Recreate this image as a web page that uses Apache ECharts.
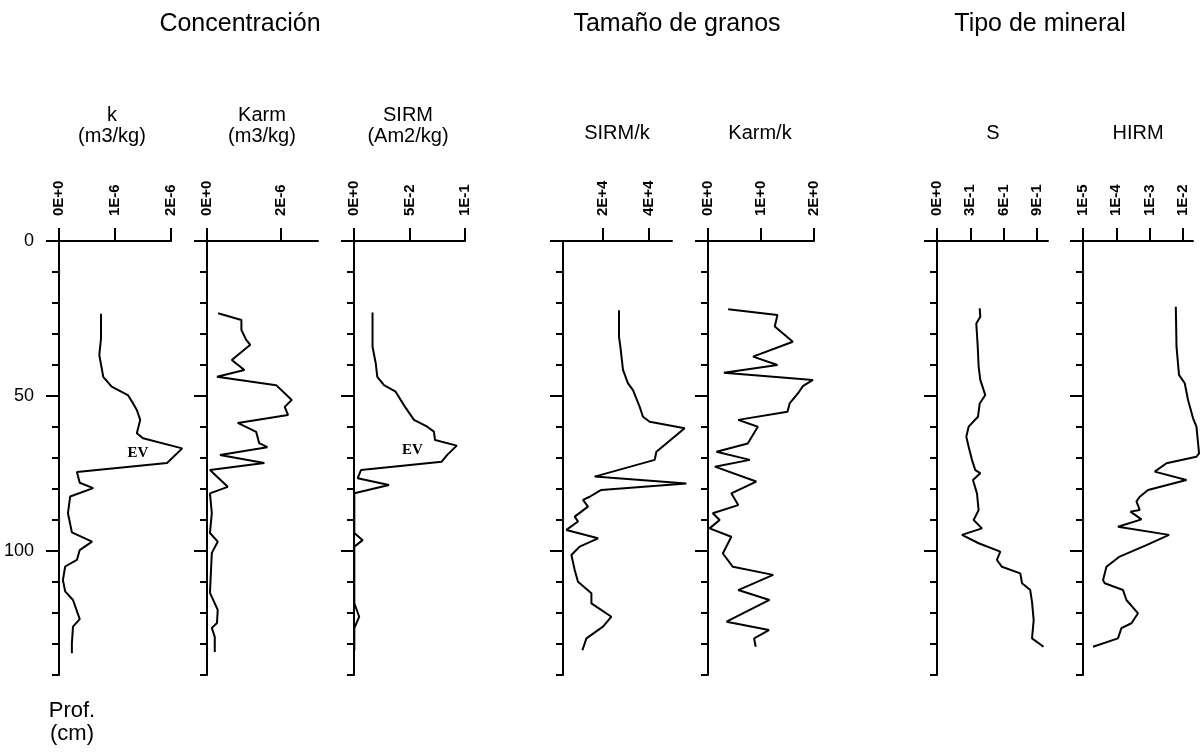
<!DOCTYPE html>
<html><head><meta charset="utf-8">
<script src="https://cdn.jsdelivr.net/npm/echarts@6/dist/echarts.min.js"></script>
<style>html,body{margin:0;padding:0;background:#fff}#c{width:1202px;height:756px}</style>
</head><body><div id="c"></div>
<script>
// ---------- data (depth in cm, values in axis units) ----------
const kDepth = [23.5,31.4,36.8,43.8,47,49.7,52.3,54.5,57.7,62,63.6,66.9,71.6,74.5,78,79.7,82.4,87.8,94,97,99.7,102.9,105,109.4,113,115.8,122,124.4,129.8,133];
const kVal = [0.75e-6,0.75e-6,0.72e-6,0.79e-6,0.94e-6,1.23e-6,1.32e-6,1.39e-6,1.45e-6,1.39e-6,1.5e-6,2.2e-6,1.93e-6,0.32e-6,0.37e-6,0.61e-6,0.2e-6,0.16e-6,0.23e-6,0.59e-6,0.37e-6,0.32e-6,0.11e-6,0.07e-6,0.11e-6,0.25e-6,0.37e-6,0.25e-6,0.23e-6,0.23e-6];

const karmDepth = [23.3,25.5,28.7,31.9,33.5,38.4,41.6,43.8,46.5,51.3,53.5,56.1,58.7,61.6,65.2,66.5,69,71.6,73.9,79.3,81.4,87.8,94.2,97,100.6,113.5,119,123.2,124.8,127.7,132.6];
const karmVal = [0.3e-6,0.93e-6,0.93e-6,1.06e-6,1.17e-6,0.67e-6,1.01e-6,0.27e-6,1.87e-6,2.29e-6,2.1e-6,2.19e-6,0.83e-6,1.33e-6,1.41e-6,1.63e-6,0.35e-6,1.55e-6,0.08e-6,0.56e-6,0.08e-6,0.13e-6,0.08e-6,0.29e-6,0.13e-6,0.08e-6,0.29e-6,0.27e-6,0.13e-6,0.21e-6,0.21e-6];

const sirmDepth = [23.1,34.1,39.5,43.8,46.5,48.6,53.5,57.7,59.9,61.5,64.2,66,69,71.2,73.9,76.5,78.7,81.4,94.2,96.5,98.6,116.9,121.2,124.9,132];
const sirmVal = [0.0167,0.0167,0.0196,0.021,0.027,0.0375,0.046,0.054,0.066,0.072,0.073,0.0926,0.084,0.079,0.0063,0.0033,0.0315,0.0003,0.0003,0.0078,0.0003,0.0003,0.0047,0.0003,0.0003];

const sirmkDepth = [22.3,30.9,34.1,41.6,45.9,48.1,53.5,56.7,58.3,60.4,68,70.6,76,78.2,80.3,82.5,83.5,85.7,88.9,90.5,93.2,95.9,98.6,101.3,106.1,109.9,113.6,116.9,121.2,124.4,128.2,132];
const sirmkVal = [26950,26950,27550,28690,30860,33040,35950,37380,40300,55500,43210,42470,16380,56250,19240,14200,11300,13470,7690,9120,4080,17820,9860,6250,7690,9120,14950,14950,23640,20000,12780,11030];

const karmkDepth = [22,23.9,27.6,32.5,37.3,40,42.5,44.8,46.8,49.1,52.4,55.1,57.7,59.9,65.3,68,70.6,72.8,77.6,81.4,85.2,87.8,90,92.7,95.4,100.8,105.1,107.7,112.6,115.8,122.8,125.5,128.2,130.9];
const karmkVal = [0.38,1.31,1.26,1.6,0.85,1.31,0.3,1.98,1.79,1.7,1.54,1.5,0.57,0.94,0.75,0.16,0.79,0.13,0.91,0.44,0.57,0.09,0.22,0.03,0.44,0.28,0.47,1.23,0.57,1.16,0.35,1.15,0.87,0.9];

const sDepth = [21.7,24.4,26.6,34.1,40.5,44.8,49.7,52.4,56.7,59.9,63.1,66.4,70.6,73.9,74.9,77.1,81.4,86.8,90,92.7,94.8,97.5,100.2,102.9,105.1,107.2,110.4,112.6,116.4,122.3,128.2,130.9];
const sVal = [0.385,0.39,0.354,0.367,0.375,0.39,0.435,0.385,0.369,0.285,0.264,0.285,0.315,0.345,0.39,0.324,0.36,0.375,0.33,0.405,0.225,0.375,0.57,0.54,0.585,0.75,0.766,0.84,0.856,0.871,0.856,0.96];

const hirmDepth = [21.2,34.1,43.2,45.9,51.3,57.2,59.9,68.5,69.6,71.7,74.4,77.1,80.3,82.5,84,86.8,87.3,89.8,92.2,94.8,98.1,101.8,105.1,109.4,110.4,112.6,115.8,120.1,123.3,124.9,128.2,130.9];
const hirmVal = [6.1e-3,6.4e-3,7.6e-3,1.13e-2,1.42e-2,2.01e-2,2.54e-2,3.04e-2,2.54e-2,3.2e-3,1.42e-3,1.27e-2,8.95e-4,5.05e-4,4.02e-4,5.05e-4,2.65e-4,5.68e-4,1.12e-4,3.82e-3,8.0e-4,1.26e-4,5.05e-5,3.99e-5,4.49e-5,1.59e-4,2.01e-4,4.49e-4,2.84e-4,1.42e-4,1.12e-4,2.0e-5];

// tick values and labels
const kTicks = [0,1e-6,2e-6];           const kLabels = ['0E+0','1E-6','2E-6'];
const karmTicks = [0,2e-6];             const karmLabels = ['0E+0','2E-6'];
const sirmTicks = [0,0.05,0.1];         const sirmLabels = ['0E+0','5E-2','1E-1'];
const sirmkTicks = [20000,40000];       const sirmkLabels = ['2E+4','4E+4'];
const karmkTicks = [0,1,2];             const karmkLabels = ['0E+0','1E+0','2E+0'];
const sTicks = [0,0.3,0.6,0.9];         const sLabels = ['0E+0','3E-1','6E-1','9E-1'];
const hirmTicks = [1e-5,1e-4,1e-3,1e-2]; const hirmLabels = ['1E-5','1E-4','1E-3','1E-2'];
const depthLabelValues = [0,50,100];

const groupTitles = ['Concentración','Tamaño de granos','Tipo de mineral'];
const depthTitle = ['Prof.','(cm)'];

// ---------- layout ----------
const panels = [
  {d:kDepth, v:kVal, ticks:kTicks, labels:kLabels, min:0, max:2e-6, left:59, width:112, t1:'k', t2:'(m3/kg)', tx:112, ev:[1.41e-6,68.4]},
  {d:karmDepth, v:karmVal, ticks:karmTicks, labels:karmLabels, min:0, max:3e-6, left:207, width:111, t1:'Karm', t2:'(m3/kg)', tx:262},
  {d:sirmDepth, v:sirmVal, ticks:sirmTicks, labels:sirmLabels, min:0, max:0.1, left:354, width:111, t1:'SIRM', t2:'(Am2/kg)', tx:408, ev:[0.0527,67.4]},
  {d:sirmkDepth, v:sirmkVal, ticks:sirmkTicks, labels:sirmkLabels, min:2600, max:50000, left:563, width:109, t2:'SIRM/k', tx:617},
  {d:karmkDepth, v:karmkVal, ticks:karmkTicks, labels:karmkLabels, min:0, max:2, left:708, width:106, t2:'Karm/k', tx:760},
  {d:sDepth, v:sVal, ticks:sTicks, labels:sLabels, min:0, max:1, left:937, width:111, t2:'S', tx:993},
  {d:hirmDepth, v:hirmVal, ticks:hirmTicks, labels:hirmLabels, min:1e-5, max:2e-2, log:true, left:1083, width:110, t2:'HIRM', tx:1138, ext:1.08}
];

const FONT = 'Liberation Sans, Arial, sans-serif';
const black = '#000';
const TOP = 241, BOTTOM = 81, EXT = 1.4; // invisible data grid is wider so curves may overshoot the axis end
const grid = [], xAxis = [], yAxis = [], series = [];
const hidden = {axisLine:{show:false}, axisTick:{show:false}, axisLabel:{show:false}, splitLine:{show:false}};
panels.forEach((p, i) => {
  // visible frame grid
  const g = grid.length;
  grid.push({left:p.left, width:p.width, top:TOP, bottom:BOTTOM, outerBoundsMode:'none'});
  xAxis.push({
    type: p.log ? 'log' : 'value', logBase:10, gridIndex:g, position:'top', min:p.min, max:p.max,
    axisLine:{show:true, onZero:false, lineStyle:{color:black, width:2}},
    axisTick:{show:true, customValues:p.ticks, length:13, lineStyle:{color:black, width:2}},
    axisLabel:{show:true, customValues:p.ticks, rotate:-90, margin:25, fontSize:15, fontWeight:'bold', color:black, fontFamily:FONT,
      formatter:(val) => { let bi=0, bd=Infinity; p.ticks.forEach((t,j)=>{const dd=Math.abs(t-val); if(dd<bd){bd=dd;bi=j;}}); return p.labels[bi]; }},
    splitLine:{show:false}
  });
  yAxis.push({
    type:'value', gridIndex:g, position:'left', inverse:true, min:0, max:140, interval:10,
    axisLine:{show:true, onZero:false, lineStyle:{color:black, width:2}},
    axisTick:{show:true, length:7, lineStyle:{color:black, width:2}},
    axisLabel:{show: i===0, customValues:depthLabelValues, margin:25, fontSize:18, color:black, fontFamily:FONT},
    splitLine:{show:false}
  });
  yAxis.push({
    type:'value', gridIndex:g, position:'left', offset:0, inverse:true, min:0, max:140,
    axisLine:{show:false},
    axisTick:{show:true, customValues:depthLabelValues, length:13, lineStyle:{color:black, width:2}},
    axisLabel:{show:false}, splitLine:{show:false}
  });
  // invisible, wider data grid with identical scale (kept inside the canvas)
  const ext = p.ext || EXT;
  let max2;
  if (p.log) max2 = Math.pow(10, Math.log10(p.min) + (Math.log10(p.max) - Math.log10(p.min)) * ext);
  else max2 = p.min + (p.max - p.min) * ext;
  const dg = grid.length;
  grid.push({left:p.left, width:p.width * ext, top:TOP, bottom:BOTTOM, outerBoundsMode:'none'});
  const xi = xAxis.length;
  xAxis.push(Object.assign({type: p.log ? 'log' : 'value', logBase:10, gridIndex:dg, position:'top', min:p.min, max:max2}, hidden));
  const yi = yAxis.length;
  yAxis.push(Object.assign({type:'value', gridIndex:dg, inverse:true, min:0, max:140}, hidden));
  const s = {
    type:'line', xAxisIndex:xi, yAxisIndex:yi, data:p.d.map((dep,j)=>[p.v[j], dep]),
    symbol:'none', clip:false, silent:true, animation:false,
    lineStyle:{color:black, width:2}
  };
  if (p.ev) {
    s.markPoint = {symbol:'circle', symbolSize:0, silent:true, animation:false,
      data:[{coord:p.ev, label:{show:true, position:'inside', formatter:'EV', color:black, fontSize:15, fontWeight:'bold', fontFamily:'Liberation Serif, DejaVu Serif, serif'}}]};
  }
  series.push(s);
});

const graphic = [];
const txt = (x,y,text,size) => graphic.push({type:'text', x, y, style:{text, fill:black, font:`${size}px ${FONT}`, align:'center', verticalAlign:'middle'}});
txt(240, 24, groupTitles[0], 25);
txt(677, 24, groupTitles[1], 25);
txt(1040, 24, groupTitles[2], 25);
panels.forEach(p => {
  if (p.t1) { txt(p.tx, 115, p.t1, 20); txt(p.tx, 136, p.t2, 20); }
  else txt(p.tx, 133, p.t2, 20);
});
txt(72, 711, depthTitle[0], 22);
txt(72, 734, depthTitle[1], 22);

const chart = echarts.init(document.getElementById('c'), null, {renderer:'canvas'});
chart.setOption({backgroundColor:'#fff', animation:false, grid, xAxis, yAxis, series, graphic});
</script></body></html>
